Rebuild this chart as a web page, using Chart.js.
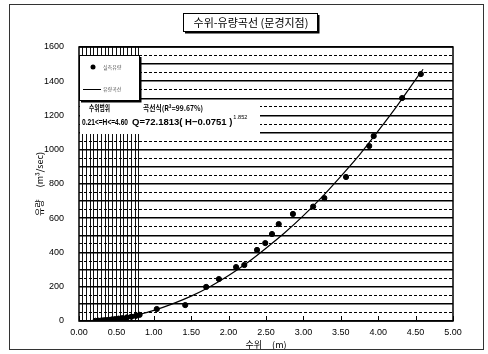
<!DOCTYPE html>
<html><head><meta charset="utf-8">
<script src="https://cdn.jsdelivr.net/npm/chart.js@4"></script>
<style>html,body{margin:0;padding:0;background:#fff}</style>
</head><body>
<canvas id="c" width="488" height="354"></canvas>
<script>
const chartTitle = '수위-유량곡선 (문경지점)';
const xAxisTitle = '수위     (m)';
const yAxisTitle = '유량      (m³/sec)';
const legendLabels = ['실측유량', '유량곡선'];
const rangeLabel = '수위범위';
const rangeText = '0.21<=H<=4.60';
const formulaLabel = '곡선식(R²=99.67%)';
const formulaText = 'Q=72.1813( H−0.0751 )';
const formulaExp = '1.852';

const measStage = [0.22,0.26,0.30,0.33,0.36,0.40,0.44,0.48,0.53,0.58,0.64,0.70,0.76,0.81,1.04,1.42,1.70,1.87,2.10,2.21,2.38,2.49,2.58,2.67,2.86,3.13,3.28,3.57,3.88,3.94,4.32,4.57];
const measFlow  = [1,2,3,4,5,7,9,11,14,17,21,25,30,36,70,93,199,245,315,327,415,455,508,566,625,668,718,841,1022,1080,1302,1442];

const curveStage = [0.21,0.30,0.40,0.50,0.60,0.70,0.80,1.00,1.25,1.50,1.75,2.00,2.25,2.50,2.75,3.00,3.25,3.50,3.75,4.00,4.25,4.50,4.60];
const curveFlow  = [1,4,8,13,20,28,38,62,100,145,200,265,340,425,515,615,725,845,970,1110,1255,1410,1470];

const xLabelValues = [0,0.5,1,1.5,2,2.5,3,3.5,4,4.5,5];
const yLabelValues = [0,200,400,600,800,1000,1200,1400,1600];

const FONT = "'Liberation Sans','Noto Sans CJK KR',sans-serif";
const KFONT = "'Noto Sans CJK KR','Liberation Sans',sans-serif";

const isLabelX = v => xLabelValues.some(t => Math.abs(t - v) < 1e-6);
const isLabelY = v => yLabelValues.some(t => Math.abs(t - v) < 1e-6);

function fitText(c, text, x, y, width) {
  const w = c.measureText(text).width;
  const k = Math.min(1, width / w);
  c.save(); c.translate(x, y); c.scale(k, 1); c.fillText(text, 0, 0); c.restore();
  return w * k;
}

const decor = {
  id: 'decor',
  beforeDraw(chart) {
    const c = chart.ctx;
    c.save(); c.fillStyle = '#fff'; c.fillRect(0, 0, chart.width, chart.height); c.restore();
  },
  beforeDatasetsDraw(chart) {
    const c = chart.ctx, a = chart.chartArea;
    c.save();
    // white band behind formula text
    c.fillStyle = '#fff';
    c.fillRect(a.left + 1, a.top + 54, 180, 33);
    // legend box
    const lx = a.left, ly = a.top + 8, lw = 60, lh = 45;
    c.fillStyle = '#fff';
    c.fillRect(lx, ly, lw, lh);
    c.strokeStyle = '#000'; c.lineWidth = 1;
    c.strokeRect(lx + 0.5, ly + 0.5, lw, lh);
    c.lineWidth = 2;
    c.beginPath(); c.moveTo(lx + lw + 1.5, ly + 2); c.lineTo(lx + lw + 1.5, ly + lh + 1.5); c.lineTo(lx + 2, ly + lh + 1.5); c.stroke();
    c.fillStyle = '#000';
    c.beginPath(); c.arc(lx + 14, ly + 12, 2.5, 0, Math.PI * 2); c.fill();
    c.lineWidth = 1;
    c.beginPath(); c.moveTo(lx + 4, ly + 34.5); c.lineTo(lx + 22, ly + 34.5); c.stroke();
    c.fillStyle = '#555';
    c.font = '5px ' + KFONT; c.textBaseline = 'middle'; c.textAlign = 'left';
    c.fillText(legendLabels[0], lx + 24, ly + 12);
    c.fillText(legendLabels[1], lx + 24, ly + 34);
    // formula texts
    c.fillStyle = '#000';
    c.font = 'bold 7.5px ' + KFONT;
    fitText(c, rangeLabel, a.left + 10, a.top + 61, 21);
    fitText(c, formulaLabel, a.left + 64, a.top + 61, 60);
    c.font = 'bold 9.5px ' + FONT;
    fitText(c, rangeText, a.left + 3, a.top + 75, 46);
    const w = fitText(c, formulaText, a.left + 53, a.top + 75, 110);
    c.font = '6px ' + FONT;
    fitText(c, formulaExp, a.left + 54 + w, a.top + 70, 14);
    // inner tick marks on x axis
    const xs = chart.scales.x;
    c.strokeStyle = '#000'; c.lineWidth = 1;
    xLabelValues.forEach(v => {
      const px = Math.round(xs.getPixelForValue(v)) + 0.5;
      c.beginPath(); c.moveTo(px, a.bottom); c.lineTo(px, a.bottom - 5); c.stroke();
    });
    c.restore();
  },
  afterDraw(chart) {
    const c = chart.ctx, a = chart.chartArea;
    c.save();
    // plot frame
    c.strokeStyle = '#000'; c.lineWidth = 1.5;
    c.strokeRect(a.left, a.top, a.right - a.left, a.bottom - a.top);
    // outer frame
    c.strokeStyle = '#333'; c.lineWidth = 1;
    c.strokeRect(9.5, 4.5, 474, 345);
    // title box
    const tx = 183, ty = 13, tw = 134, th = 18;
    c.fillStyle = '#fff'; c.fillRect(tx, ty, tw, th);
    c.strokeStyle = '#000'; c.lineWidth = 1;
    c.strokeRect(tx + 0.5, ty + 0.5, tw, th);
    c.lineWidth = 2;
    c.beginPath(); c.moveTo(tx + tw + 1.5, ty + 2); c.lineTo(tx + tw + 1.5, ty + th + 1.5); c.lineTo(tx + 2, ty + th + 1.5); c.stroke();
    c.fillStyle = '#000';
    c.font = '11px ' + KFONT; c.textAlign = 'center'; c.textBaseline = 'middle';
    c.fillText(chartTitle, tx + tw / 2 + 1, ty + th / 2 + 1);
    c.restore();
  }
};

new Chart(document.getElementById('c'), {
  type: 'scatter',
  data: {
    datasets: [
      {
        type: 'line',
        label: legendLabels[1],
        data: curveStage.map((x, i) => ({x: x, y: curveFlow[i]})),
        borderColor: '#000', borderWidth: 1.2,
        pointRadius: 0, tension: 0.4, cubicInterpolationMode: 'monotone', fill: false
      },
      {
        label: legendLabels[0],
        data: measStage.map((x, i) => ({x: x, y: measFlow[i]})),
        backgroundColor: '#000', borderColor: '#000',
        pointRadius: 2.6, pointStyle: 'circle'
      }
    ]
  },
  options: {
    responsive: false, animation: false, devicePixelRatio: 1,
    layout: {padding: {left: 10, right: 35, top: 47, bottom: 0}},
    plugins: {legend: {display: false}, tooltip: {enabled: false}, title: {display: false}},
    scales: {
      x: {
        type: 'linear', min: 0, max: 5,
        afterFit: s => { s.height = 33; },
        ticks: {
          stepSize: 0.05, autoSkip: false, maxRotation: 0, padding: 6,
          color: '#000', font: {family: FONT, size: 9},
          callback: v => isLabelX(v) ? v.toFixed(2) : ''
        },
        grid: {
          drawTicks: false, lineWidth: 1,
          color: ctx => (ctx.tick && ctx.tick.value > 0.01 && ctx.tick.value < 0.82) ? '#111' : 'rgba(0,0,0,0)'
        },
        border: {display: false},
        title: {display: true, text: xAxisTitle, color: '#000', font: {family: KFONT, size: 9}, padding: {top: 0, bottom: 4}}
      },
      y: {
        type: 'linear', min: 0, max: 1600,
        afterFit: s => { s.width = 69; },
        ticks: {
          stepSize: 50, autoSkip: false, padding: 15,
          color: '#000', font: {family: FONT, size: 9},
          callback: v => isLabelY(v) ? String(v) : ''
        },
        grid: {
          drawTicks: false,
          color: '#000',
          lineWidth: ctx => (ctx.tick && ctx.tick.value % 100 === 0) ? 1.6 : 1
        },
        border: {display: false, dash: ctx => (ctx.tick && ctx.tick.value % 100 !== 0) ? [3, 2] : []},
        title: {display: true, text: yAxisTitle, color: '#000', font: {family: KFONT, size: 9}, padding: {top: 24, bottom: 0}}
      }
    }
  },
  plugins: [decor]
});
</script>
</body></html>
